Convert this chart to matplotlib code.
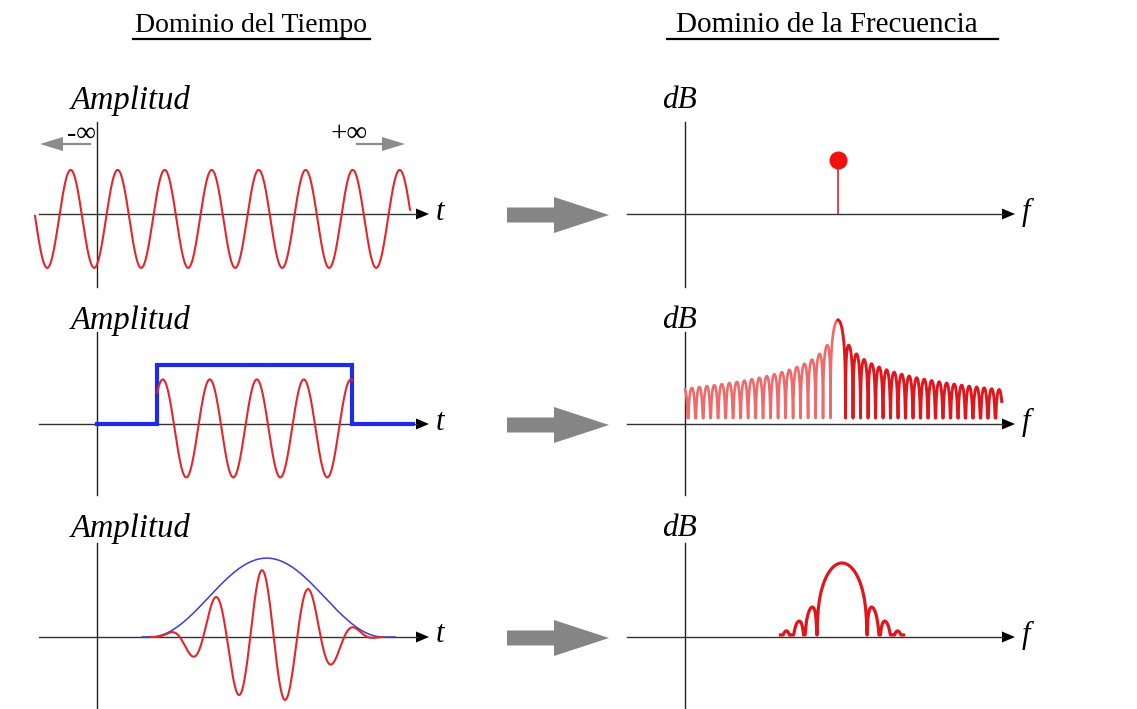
import matplotlib
matplotlib.use("Agg")
import matplotlib.pyplot as plt
from matplotlib.patches import Polygon
import numpy as np

W, H = 1137, 709

# ---- time signals (time in carrier periods, amplitude in carrier units) ----
tone_span = [-1.32, 6.66]
tone_first_peak = -0.56
tone_offset = -0.10

gate_span = [1.28, 5.43]       # rectangular window edges
gate_height = 1.20
gate_tail = 6.72               # where the drawn window line stops
gate_first_peak = 1.40
gate_offset = -0.09

hann_span = [1.13, 6.09]       # raised-cosine window support
hann_height = 1.61
hann_flat = [0.96, 6.34]       # drawn extent of the window line
hann_carrier_peak = 3.51
hann_carrier_ratio = 0.85

# ---- spectra (frequency in units of the tone, level in dB from the peak) ----
tone_freq = 1.0
tone_floor_db = -28.4
rect_centre = 1.0
rect_bin = 0.049
rect_span = [0.0, 2.07]
rect_floor_db = -51.6
hann_centre = 1.026
hann_bin = 0.082
hann_extent = 4.9              # bins drawn either side of the peak
hann_floor_db = -51.4

titles = ["Dominio del Tiempo", "Dominio de la Frecuencia"]
time_label = "Amplitud"
freq_label = "dB"

RED = "#e3262b"
BLUE = "#1f2be6"
GRAY = "#8c8c8c"
SERIF = "Liberation Serif"

fig = plt.figure(figsize=(W / 100, H / 100), dpi=100)
bg = fig.add_axes([0, 0, 1, 1])
bg.set_xlim(0, W)
bg.set_ylim(H, 0)
bg.axis("off")


def make_panel(box, origin, scale):
    """Axes whose data (0, 0) sits on the pixel `origin`, `scale` px per unit."""
    x0, y0, x1, y1 = box
    ox, oy = origin
    sx, sy = scale
    ax = fig.add_axes([x0 / W, 1 - y1 / H, (x1 - x0) / W, (y1 - y0) / H])
    ax.set_xlim((x0 - ox) / sx, (x1 - ox) / sx)
    ax.set_ylim((oy - y1) / sy, (oy - y0) / sy)
    ax.patch.set_alpha(0)
    ax.axis("off")
    return ax


def draw_axes(vx, vtop, vbot, hx0, htip, hy, name, ylabel, ylabel_x, ylabel_y, size):
    bg.plot([vx, vx], [vtop, vbot], color="#222222", lw=1)
    bg.plot([hx0, htip - 12], [hy, hy], color="#333333", lw=1)
    bg.add_patch(Polygon([(htip, hy), (htip - 13, hy - 5.5), (htip - 13, hy + 5.5)],
                         closed=True, color="black", lw=0))
    bg.text(htip + 7, hy - 2, name, fontsize=22, family=SERIF, style="italic",
            ha="left", va="center")
    bg.text(ylabel_x, ylabel_y, ylabel, fontsize=size, family=SERIF, style="italic",
            ha="left", va="center")


def big_arrow(y):
    pts = [(507, y - 7.5), (554, y - 7.5), (554, y - 18), (609, y),
           (554, y + 18), (554, y + 7.5), (507, y + 7.5)]
    bg.add_patch(Polygon(pts, closed=True, color="#858585", lw=0))


# titles with underline
for text, cx, size, (u0, u1) in zip(titles, [251, 827], [20, 21],
                                    [(133, 370), (667, 998)]):
    bg.text(cx, 25, text, fontsize=size, family=SERIF, ha="center", va="center")
    bg.plot([u0, u1], [39, 39], color="black", lw=1.6)

row_axis_y = [214, 424, 637]
row_label_y = [100, 320, 529]
row_vtop = [122, 332, 543]
row_vbot = [287, 495, 709]
for ay, ly, vt, vb in zip(row_axis_y, row_label_y, row_vtop, row_vbot):
    draw_axes(97, vt, vb, 39, 429, ay, "t", time_label, 71, ly, 23.5)
    draw_axes(685, vt, vb, 627, 1015, ay, "f", freq_label, 662, ly, 22.5)
    big_arrow(ay + 1)

# -inf / +inf markers
bg.text(82, 134, "-\u221e", fontsize=20, family=SERIF, ha="center", va="center")
bg.text(349, 134, "+\u221e", fontsize=21, family=SERIF, ha="center", va="center")
bg.plot([62, 90], [144, 144], color=GRAY, lw=1.6)
bg.add_patch(Polygon([(40, 144), (63, 137), (63, 151)], closed=True, color=GRAY, lw=0))
bg.plot([357, 384], [144, 144], color=GRAY, lw=1.6)
bg.add_patch(Polygon([(405, 144), (382, 137), (382, 151)], closed=True, color=GRAY, lw=0))

# ---- time domain ----
ax1 = make_panel((30, 115, 435, 290), (97, 214), (47, 49))
t = np.linspace(*tone_span, 2000)
ax1.plot(t, tone_offset + np.cos(2 * np.pi * (t - tone_first_peak)), color=RED, lw=1.5)

ax2 = make_panel((30, 325, 435, 500), (97, 424), (47, 49))
gate_x = [0, gate_span[0], gate_span[0], gate_span[1], gate_span[1], gate_tail]
gate_y = [0, 0, gate_height, gate_height, 0, 0]
ax2.plot(gate_x, gate_y, color=BLUE, lw=3, solid_joinstyle="miter")
t = np.linspace(*gate_span, 1000)
ax2.plot(t, gate_offset + np.cos(2 * np.pi * (t - gate_first_peak)), color=RED, lw=1.5)

ax3 = make_panel((30, 535, 435, 709), (97, 637), (47, 49))
hann_mid = np.mean(hann_span)
hann_width = hann_span[1] - hann_span[0]


def hann_env(x):
    inside = np.abs(x - hann_mid) < hann_width / 2
    return np.where(inside, hann_height * np.cos(np.pi * (x - hann_mid) / hann_width) ** 2, 0)


t = np.linspace(*hann_flat, 1500)
ax3.plot(t, hann_env(t), color="#3b3bd9", lw=1.1)
t = np.linspace(*hann_span, 1500)
ax3.plot(t, hann_carrier_ratio * hann_env(t) * np.cos(2 * np.pi * (t - hann_carrier_peak)),
         color=RED, lw=1.5)

# ---- frequency domain ----
fx1 = make_panel((620, 115, 1040, 290), (685, 160), (153, 1.9))
fx1.vlines(tone_freq, tone_floor_db, 0, color=RED, lw=1.2)
fx1.plot([tone_freq], [0], "o", color="#f01010", ms=13, mec="none")

fx2 = make_panel((620, 305, 1040, 500), (685, 320), (153, 1.9))
f = np.linspace(*rect_span, 8000)
level = 20 * np.log10(np.abs(np.sinc((f - rect_centre) / rect_bin)) + 1e-12)
level = np.maximum(level, rect_floor_db)
left = f <= rect_centre
fx2.plot(f[left], level[left], color="#ef6a6a", lw=1.9)
fx2.plot(f[~left], level[~left], color="#e0161c", lw=2.1)

fx3 = make_panel((620, 535, 1040, 709), (685, 563), (153, 1.4))
f = np.linspace(hann_centre - hann_extent * hann_bin, hann_centre + hann_extent * hann_bin, 4001)
u = (f - hann_centre) / hann_bin
denom = 1 - u ** 2
denom = np.where(np.abs(denom) < 1e-6, 1e-6, denom)
mag = np.where(np.abs(np.abs(u) - 1) < 1e-4, 0.5, np.sinc(u) / denom)
level = np.maximum(20 * np.log10(np.abs(mag) + 1e-12), hann_floor_db)
fx3.plot(f, level, color="#e0161c", lw=2.3)

fig.savefig("out.png", dpi=100)
